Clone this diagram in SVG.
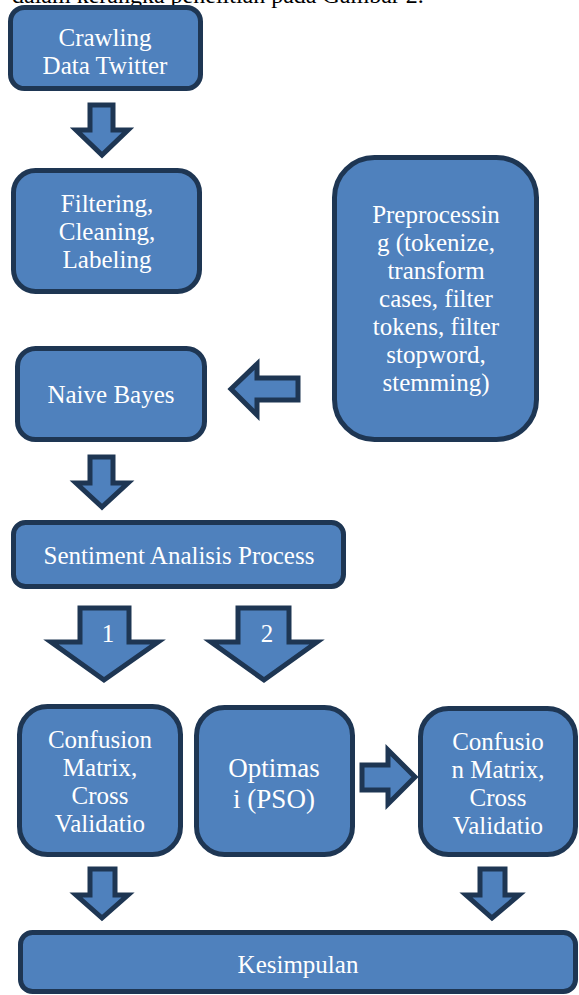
<svg xmlns="http://www.w3.org/2000/svg" width="579" height="995" viewBox="0 0 579 995">
<style>
.box{fill:#4F81BD;stroke:#1E3653;stroke-width:5}
.arr{fill:#4F81BD;stroke:#1E3653;stroke-width:5;stroke-linejoin:miter}
.t{font-family:"Liberation Serif","Times New Roman",serif;font-size:25px;fill:#FFFFFF;text-anchor:middle}
.big{font-size:27px}
.top{font-family:"Liberation Serif","Times New Roman",serif;font-size:24px;fill:#000000}
</style>
<defs>
<clipPath id="clipCrawl"><rect x="10" y="7" width="190" height="68"/></clipPath>
</defs>
<text class="top" x="12" y="3">dalam kerangka penelitian pada Gambar 2.</text>
<g id="crawling">
<rect class="box" x="10.5" y="7.5" width="190" height="81" rx="14"/>
<g clip-path="url(#clipCrawl)">
<text class="t" x="105" y="46">Crawling</text>
<text class="t" x="105" y="74">Data Twitter</text>
</g>
</g>
<g id="filtering">
<rect class="box" x="13.5" y="170.5" width="186" height="121" rx="22"/>
<text class="t" x="107" y="212">Filtering,</text>
<text class="t" x="107" y="240">Cleaning,</text>
<text class="t" x="107" y="268">Labeling</text>
</g>
<g id="preprocessing">
<rect class="box" x="334.5" y="157.5" width="202" height="282" rx="40"/>
<text class="t" x="436" y="223">Preprocessin</text>
<text class="t" x="436" y="251">g (tokenize,</text>
<text class="t" x="436" y="279">transform</text>
<text class="t" x="436" y="307">cases, filter</text>
<text class="t" x="436" y="335">tokens, filter</text>
<text class="t" x="436" y="363">stopword,</text>
<text class="t" x="436" y="391">stemming)</text>
</g>
<g id="naivebayes">
<rect class="box" x="17.5" y="348.5" width="187" height="91" rx="18"/>
<text class="t" x="111" y="403">Naive Bayes</text>
</g>
<g id="sentiment">
<rect class="box" x="13.5" y="522.5" width="330" height="64" rx="12"/>
<text class="t" x="179" y="564">Sentiment Analisis Process</text>
</g>
<g id="confusion1">
<rect class="box" x="19.5" y="706.5" width="161" height="148" rx="28"/>
<text class="t" x="100" y="748">Confusion</text>
<text class="t" x="100" y="776">Matrix,</text>
<text class="t" x="100" y="804">Cross</text>
<text class="t" x="100" y="832">Validatio</text>
</g>
<g id="optimasi">
<rect class="box" x="196.5" y="707.5" width="156" height="147" rx="28"/>
<text class="t big" x="274" y="777">Optimas</text>
<text class="t big" x="274" y="808">i  (PSO)</text>
</g>
<g id="confusion2">
<rect class="box" x="420.5" y="708.5" width="155" height="146" rx="28"/>
<text class="t" x="498" y="750">Confusio</text>
<text class="t" x="498" y="778">n Matrix,</text>
<text class="t" x="498" y="806">Cross</text>
<text class="t" x="498" y="834">Validatio</text>
</g>
<g id="kesimpulan">
<rect class="box" x="20.5" y="932.5" width="555" height="59" rx="12"/>
<text class="t" x="298" y="973">Kesimpulan</text>
</g>
<g id="connectors">
<polygon class="arr" points="90,105 113,105 113,130 128,130 102,155 76,130 90,130"/>
<polygon class="arr" points="90,457 113,457 113,483 128,483 102,507 76,483 90,483"/>
<polygon class="arr" points="298,378 257,378 257,364 231,389 257,415 257,400 298,400"/>
<polygon class="arr" points="80,608 129,608 129,642 158,642 104,680 51,642 80,642"/>
<text class="t" x="108" y="642">1</text>
<polygon class="arr" points="238,608 289,608 289,642 317,642 264,680 211,642 238,642"/>
<text class="t" x="267" y="642">2</text>
<polygon class="arr" points="362,765 388,765 388,750 415,777 388,804 388,790 362,790"/>
<polygon class="arr" points="90,869 115,869 115,895 128,895 102,918 76,895 90,895"/>
<polygon class="arr" points="480,869 505,869 505,895 519,895 492,918 466,895 480,895"/>
</g>
</svg>
